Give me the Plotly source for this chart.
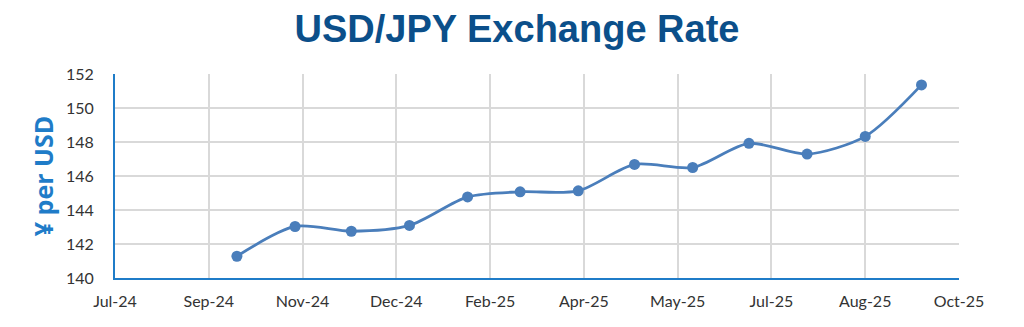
import plotly.graph_objects as go

dates = ["2024-09-30", "2024-10-31", "2024-11-30", "2024-12-31", "2025-01-31",
         "2025-02-28", "2025-03-31", "2025-04-30", "2025-05-31", "2025-06-30",
         "2025-07-31", "2025-08-31", "2025-09-30"]
rates = [141.28, 143.03, 142.75, 143.09, 144.77, 145.07, 145.13, 146.68,
         146.50, 147.92, 147.29, 148.33, 151.36]

title_text = "USD/JPY Exchange Rate"
y_title = "¥ per USD"
x_start, x_end = "2024-07-27", "2025-10-20"
day_ms = 86400000

fig = go.Figure()
fig.add_trace(go.Scatter(
    x=dates, y=rates, mode="lines+markers",
    line=dict(color="#4A7EBB", width=2.8, shape="spline", smoothing=0.8),
    marker=dict(color="#4A7EBB", size=11),
    showlegend=False,
))

fig.update_layout(
    width=1024, height=327,
    margin=dict(l=115, r=65, t=74, b=49),
    paper_bgcolor="white", plot_bgcolor="white",
    title=dict(text="<b>" + title_text + "</b>", xref="container", x=517/1024,
               xanchor="center", yref="container", y=1-29/327, yanchor="middle",
               font=dict(family="Liberation Sans, Arial", size=38, color="#0B4F8A")),
    font=dict(family="Lato, Open Sans, sans-serif", size=16, color="#333333"),
)
fig.update_xaxes(
    type="date", range=[x_start, x_end], tick0=x_start, dtick=50*day_ms,
    tickformat="%b-%y", showgrid=True, gridcolor="#D9D9D9", gridwidth=1.5,
    showline=True, linecolor="#1F7CC8", linewidth=2, ticks="", ticklabelstandoff=8,
    tickfont=dict(size=16, color="#333333"),
)
fig.update_yaxes(
    range=[140, 152], dtick=2, showgrid=True, gridcolor="#D9D9D9", gridwidth=1.5,
    showline=True, linecolor="#1F7CC8", linewidth=2, ticks="", ticklabelstandoff=16,
    tickfont=dict(size=16, color="#333333"), zeroline=False,
    title=dict(text="<b>" + y_title + "</b>", standoff=5,
               font=dict(family="Open Sans, sans-serif", size=25, color="#1F7CC8")),
)
fig.write_html("out.html")
